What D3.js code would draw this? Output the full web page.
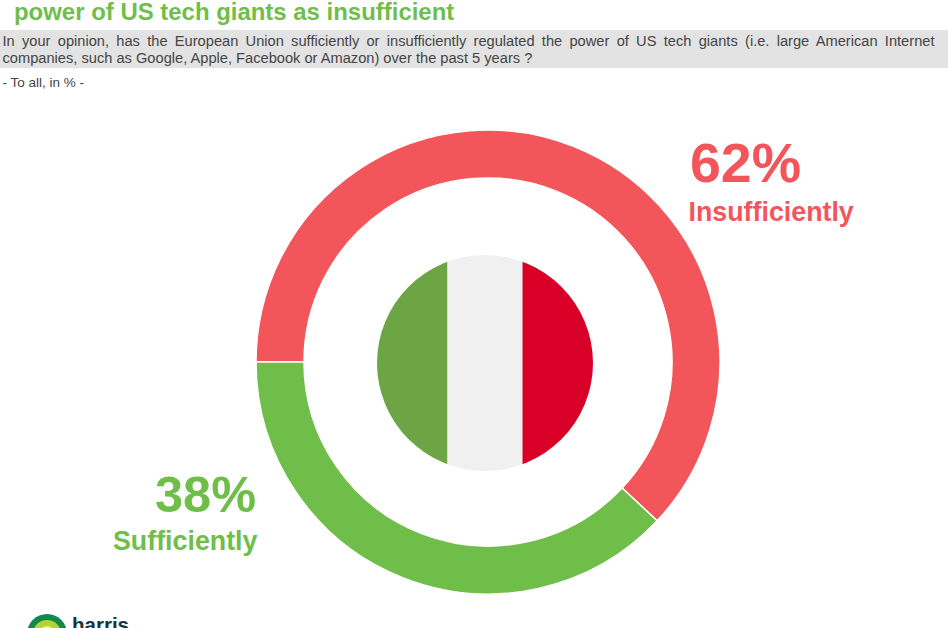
<!DOCTYPE html>
<html><head><meta charset="utf-8">
<script src="https://cdn.jsdelivr.net/npm/d3@7"></script>
<style>html,body{margin:0;padding:0;background:#fff;overflow:hidden}svg{display:block}text{font-family:"Liberation Sans",Arial,sans-serif}</style>
</head><body><svg id="c" width="948" height="628"></svg>
<script>
const categories = ["Insufficiently", "Sufficiently"];
const values = [62, 38];
const colors = ["#F2565B", "#6FBE4A"];
const flagColors = ["#6DA544", "#F0F0F0", "#D80027"];
const titleText = "power of US tech giants as insufficient";
const questionLines = [
 "In your opinion, has the European Union sufficiently or insufficiently regulated the power of US tech giants (i.e. large American Internet",
 "companies, such as Google, Apple, Facebook or Amazon) over the past 5 years ?"];
const baseText = "- To all, in % -";

const svg = d3.select("#c");
svg.append("text").attr("x",14).attr("y",20).attr("font-size",23.95).attr("font-weight",700).attr("fill","#6FBE4A").text(titleText);
svg.append("rect").attr("x",0).attr("y",30).attr("width",948).attr("height",38).attr("fill","#E3E3E3");
const q1 = svg.append("text").attr("x",2.5).attr("y",46).attr("font-size",14.65).attr("fill","#454545").text(questionLines[0]);
const gaps = questionLines[0].split(" ").length-1;
q1.attr("word-spacing",(932-q1.node().getComputedTextLength())/gaps);
svg.append("text").attr("x",2.5).attr("y",63).attr("font-size",14.65).attr("fill","#454545").text(questionLines[1]);
svg.append("text").attr("x",2.5).attr("y",87).attr("font-size",13.5).attr("fill","#454545").text(baseText);

const pie = d3.pie().sort(null).startAngle(-Math.PI/2).endAngle(1.5*Math.PI);
const arc = d3.arc().innerRadius(184).outerRadius(232);
const g = svg.append("g").attr("transform","translate(488,362)");
g.selectAll("path").data(pie(values)).join("path").attr("d",arc)
 .attr("fill",(d,i)=>colors[i]).attr("stroke","#fff").attr("stroke-width",1.5);

// flag
const fx = 485, fy = 363, fr = 108;
const defs = svg.append("defs");
defs.append("clipPath").attr("id","fc").append("circle").attr("cx",fx).attr("cy",fy).attr("r",fr);
const x = d3.scaleLinear().domain([0,3]).range([fx-fr-4.5, fx+fr+4.5]);
svg.append("g").attr("clip-path","url(#fc)").selectAll("rect").data(flagColors).join("rect")
 .attr("x",(d,i)=>x(i)).attr("y",fy-fr).attr("width",(d,i)=>x(i+1)-x(i)).attr("height",2*fr).attr("fill",d=>d);

// labels
svg.append("text").attr("x",690).attr("y",182).attr("font-size",55.5).attr("font-weight",700).attr("fill",colors[0]).text(values[0]+"%");
svg.append("text").attr("x",688.5).attr("y",221).attr("font-size",26.8).attr("font-weight",700).attr("fill",colors[0]).text(categories[0]);
svg.append("text").attr("x",155).attr("y",512).attr("font-size",50.5).attr("font-weight",700).attr("fill",colors[1]).text(values[1]+"%");
svg.append("text").attr("x",113).attr("y",550).attr("font-size",26.8).attr("font-weight",700).attr("fill",colors[1]).text(categories[1]);

// logo
const lg = svg.append("g").attr("transform","translate(47,634)");
lg.append("circle").attr("r",20).attr("fill","#0F8A4B");
lg.append("circle").attr("r",14).attr("fill","#B5D334");
lg.append("circle").attr("r",8).attr("fill","#FFF35C");
svg.append("text").attr("x",72).attr("y",632).attr("font-size",20.5).attr("font-weight",700).attr("fill","#12343B").text("harris");
</script></body></html>
